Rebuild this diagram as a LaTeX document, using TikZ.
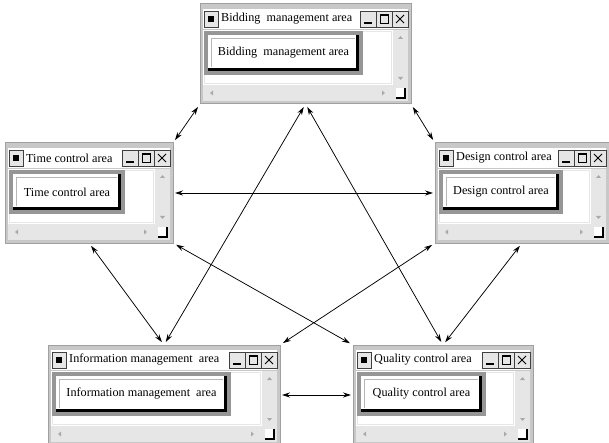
\documentclass[tikz,border=0pt]{standalone}
\usepackage{fontspec}
\setmainfont{Liberation Serif}
\usetikzlibrary{arrows.meta, positioning, calc}

\definecolor{winframe}{RGB}{200,200,200}
\definecolor{winedge}{RGB}{160,160,160}
\definecolor{barfill}{RGB}{230,230,230}
\definecolor{btnedge}{RGB}{150,150,150}
\definecolor{scrollmark}{RGB}{170,170,170}

% one application window: name, x, y, width, title, button width
\newcommand{\appwin}[6]{%
  \begin{scope}[shift={(#2,#3)}]
    \node[winbox, minimum width=#4pt, anchor=north west] (#1) at (0,0) {};
    %--- title bar ---
    \fill[white] (3,5) rectangle ({#4-3},25);
    \draw[tbtn] (4,7) rectangle (18,23);
    \fill[black] (8,12) rectangle (14,18);
    \node[wtitle, anchor=west] (#1-title) at (21,15) {#5};
    \draw[tbtn] ({#4-51},7) rectangle ({#4-35},23);
    \draw[tbtn] ({#4-35},7) rectangle ({#4-19},23);
    \draw[tbtn] ({#4-19},7) rectangle ({#4-3},23);
    \draw[line width=1.6pt] ({#4-47},19) -- ({#4-39},19);
    \draw[line width=0.8pt] ({#4-31},10.5) rectangle ({#4-23},19.5);
    \draw[line width=1.4pt] ({#4-31},11) -- ({#4-23},11);
    \draw[line width=1pt] ({#4-15},11) -- ({#4-7},19) ({#4-15},19) -- ({#4-7},11);
    %--- body and scroll bars ---
    \fill[white] (3,26) rectangle ({#4-3},97);
    \draw[barfill, line width=1.5pt] (4.5,27.5) rectangle ({#4-19.5},79.5);
    \fill[barfill] ({#4-18},26) rectangle ({#4-3},97);
    \fill[barfill] (3,81) rectangle ({#4-18},97);
    \fill[scrollmark] ({#4-13},35) -- ({#4-8},35) -- ({#4-10.5},32) -- cycle;
    \fill[scrollmark] ({#4-13},73) -- ({#4-8},73) -- ({#4-10.5},76) -- cycle;
    \fill[scrollmark] (10,89) -- (13,86.5) -- (13,91.5) -- cycle;
    \fill[scrollmark] ({#4-26},89) -- ({#4-29},86.5) -- ({#4-29},91.5) -- cycle;
    \fill[white] ({#4-15},84) rectangle ({#4-6},94);
    \draw[line width=1.2pt] ({#4-15},94) -- ({#4-6},94) -- ({#4-6},84);
    %--- push button ---
    \node[pushbtn, minimum width=#6pt, anchor=north west] (#1-btn) at (6,29) {#5};
    \draw[black, line width=3pt]
      ($(#1-btn.north east)+(-3.2,2)$) -- ($(#1-btn.south east)+(-3.2,-3.2)$)
      -- ($(#1-btn.south west)+(2,-3.2)$);
    \draw[btnedge!70, line width=0.8pt]
      ($(#1-btn.south west)+(5.5,-6)$) -- ($(#1-btn.north west)+(5.5,5.5)$)
      -- ($(#1-btn.north east)+(-6,5.5)$);
  \end{scope}
}

\begin{document}
\begin{tikzpicture}[
  x=1pt, y=-1pt,
  font=\fontsize{12.2}{14}\selectfont,
  winbox/.style={draw=winedge, fill=winframe, line width=1pt,
                 minimum height=100pt, inner sep=0pt, outer sep=0pt},
  tbtn/.style={draw=black!75, fill=barfill, line width=0.7pt},
  wtitle/.style={inner sep=0pt},
  pushbtn/.style={draw=btnedge, fill=white, line width=3.5pt,
                  minimum height=40pt, inner sep=0pt, outer sep=0pt},
  link/.style={{Stealth[length=8pt,width=5pt]}-{Stealth[length=8pt,width=5pt]},
               black, line width=0.75pt, shorten <=3.5pt, shorten >=3.5pt},
  flat/.style={{Stealth[length=8pt,width=5pt]}-{Stealth[length=8pt,width=5pt]},
               black, line width=0.75pt, shorten <=2pt, shorten >=2pt}
]
  \useasboundingbox[fill=white] (0,0) rectangle (609,443);

  %--- windows ---
  \appwin{bid}{200}{4}{211}{Bidding\ \ management area}{155}
  \appwin{tim}{5}{143}{168}{Time control area}{112}
  \appwin{des}{435}{143}{174}{Design control area}{120}
  \appwin{inf}{48}{345}{232}{Information management\ \ area}{175}
  \appwin{qua}{353}{345}{180}{Quality control area}{125}

  %--- links ---
  \draw[link] (bid.south west) -- (tim.north east);
  \draw[link] (bid.south east) -- (des.north west);
  \draw[link] (bid.south) -- (inf.north);
  \draw[link] (bid.south) -- (qua.north);
  \draw[flat] (tim.east) -- (des.west);
  \draw[link] (tim.south) -- (inf.north);
  \draw[link] (tim.south east) -- (qua.north west);
  \draw[link] (des.south west) -- (inf.north east);
  \draw[link] (des.south) -- (qua.north);
  \draw[flat] (inf.east) -- (qua.west);

\end{tikzpicture}
\end{document}
